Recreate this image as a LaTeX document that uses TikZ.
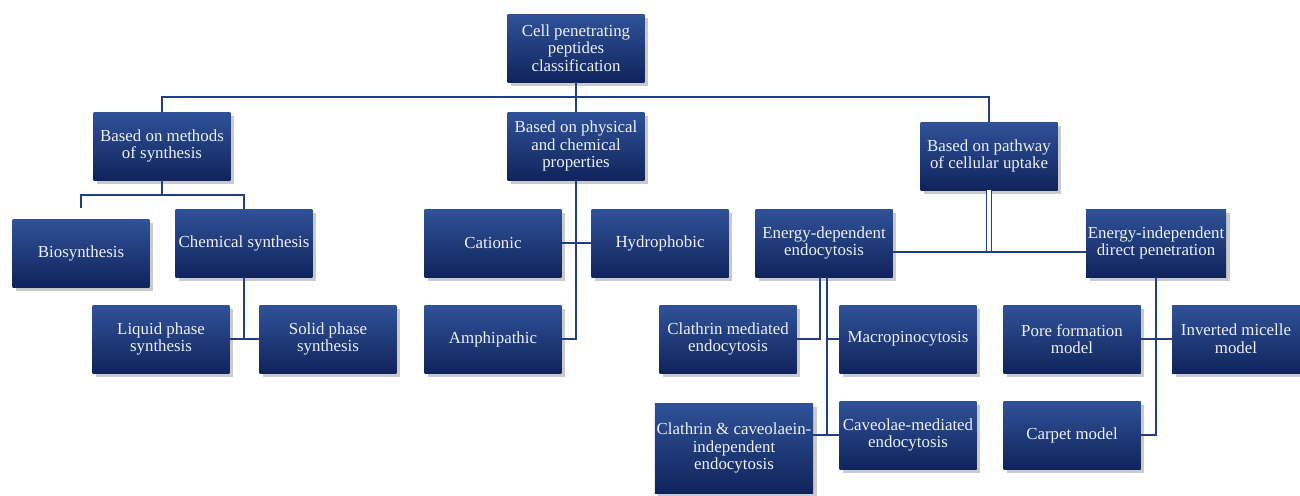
\documentclass[tikz,border=0pt]{standalone}
\usepackage{fontspec}
\setmainfont{Liberation Serif}
\usetikzlibrary{shadows,positioning}
\definecolor{boxtop}{RGB}{48,82,152}
\definecolor{boxbot}{RGB}{16,36,92}
\definecolor{wire}{RGB}{34,64,126}
\definecolor{boxtext}{RGB}{236,240,248}
\tikzset{
  cpp/.style={rectangle, top color=boxtop, bottom color=boxbot, text=boxtext,
    minimum width=2.74cm, minimum height=1.36cm, align=center, inner sep=1pt,
    font=\fontsize{9.6}{10}\selectfont,
    drop shadow={shadow xshift=2pt, shadow yshift=-2pt, opacity=0.35, fill=black!60}},
  wire/.style={draw=wire, line width=1.2pt}
}
\begin{document}
\begin{tikzpicture}[x=0.02cm, y=-0.02cm]
\useasboundingbox (0,0) rectangle (1300,495);
\node[cpp] (root) at (576,48) {Cell penetrating\\peptides\\classification};
\node[cpp] (methods) at (162,146) {Based on methods\\of synthesis};
\node[cpp] (physical) at (576,146) {Based on physical\\and chemical\\properties};
\node[cpp] (pathway) at (989,156) {Based on pathway\\of cellular uptake};
\node[cpp] (bio) at (81,253) {Biosynthesis};
\node[cpp] (chem) at (244,243) {Chemical synthesis};
\node[cpp] (liquid) at (161,339) {Liquid phase\\synthesis};
\node[cpp] (solid) at (328,339) {Solid phase\\synthesis};
\node[cpp] (cationic) at (493,243) {Cationic};
\node[cpp] (hydro) at (660,243) {Hydrophobic};
\node[cpp] (amphi) at (493,339) {Amphipathic};
\node[cpp] (edep) at (824,243) {Energy-dependent\\endocytosis};
\node[cpp] (eindep) at (1156,243) {Energy-independent\\direct penetration};
\node[cpp] (clath) at (728,339) {Clathrin mediated\\endocytosis};
\node[cpp] (macro) at (908,339) {Macropinocytosis};
\node[cpp, minimum width=2.96cm, minimum height=1.8cm] (ccind) at (734,448) {Clathrin \& caveolaein-\\independent\\endocytosis};
\node[cpp] (caveo) at (908,435) {Caveolae-mediated\\endocytosis};
\node[cpp] (pore) at (1072,339) {Pore formation\\model};
\node[cpp, minimum width=2.56cm] (inverted) at (1236,339) {Inverted micelle\\model};
\node[cpp] (carpet) at (1072,435) {Carpet model};
\coordinate (bus) at (576,97);
\coordinate (mbus) at (162,195);
\coordinate (edl) at (820,0);
\coordinate (edr) at (827,0);
\draw[wire] (root) -- (physical);
\draw[wire] (methods.north) |- (bus) -| (pathway.north);
\draw[wire] (methods) -- (mbus);
\draw[wire] ([yshift=0.22cm]bio.north) |- (mbus) -| (chem.north);
\draw[wire] (chem) -- (chem |- liquid);
\draw[wire] (liquid) -- (solid);
\draw[wire] (physical.south) |- (amphi.east);
\draw[wire] (cationic) -- (hydro);
\draw[wire, double=white, double distance=0.07cm, line width=0.9pt] (pathway.south) -- (pathway |- 0,252);
\draw[wire] ([yshift=-0.18cm]edep.east) -- ([yshift=-0.18cm]eindep.west);
\draw[wire] (edl |- edep.south) |- (clath.east);
\draw[wire] (edr |- edep.south) |- (caveo.west);
\draw[wire] (macro.west) -- (macro.west -| edr);
\draw[wire] (ccind.east |- caveo) -- (caveo);
\draw[wire] (eindep.south) |- (carpet.east);
\draw[wire] (pore) -- (inverted);
\end{tikzpicture}
\end{document}
